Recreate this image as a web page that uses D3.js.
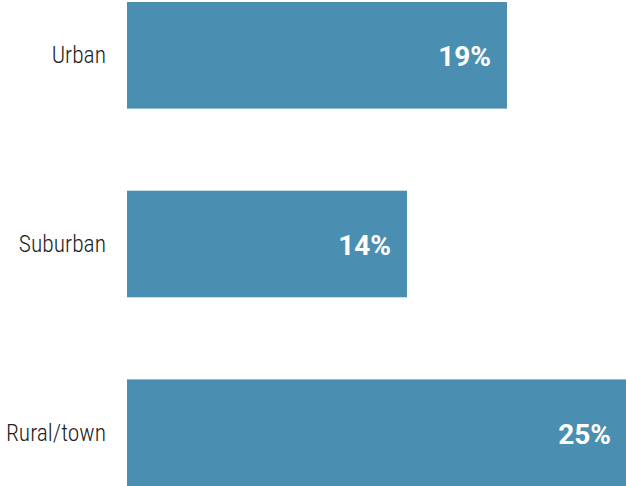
<!DOCTYPE html>
<html>
<head>
<meta charset="utf-8">
<script src="https://cdn.jsdelivr.net/npm/d3@7"></script>
<style>
  html, body { margin: 0; padding: 0; background: #fff; }
  svg { display: block; }
</style>
</head>
<body>
<svg id="chart" width="626" height="486"></svg>
<script>
// Share by community type
const categories = ["Urban", "Suburban", "Rural/town"];
const values = [19, 14, 25];
const valueLabels = ["19%", "14%", "25%"];

const W = 626, H = 486;
const svg = d3.select("#chart");

const x = d3.scaleLinear().domain([0, 25]).range([127, 627]);
const y = d3.scaleBand().domain(categories).range([2, 486])
  .paddingInner(0.435).paddingOuter(0);

const barColor = "#4a8fb2";
const labelFont = "'Roboto Condensed', 'Roboto', sans-serif";
const valueFont = "'Roboto', 'Roboto Condensed', sans-serif";

const rows = svg.selectAll("g.row")
  .data(categories.map((c, i) => ({ c, v: values[i], label: valueLabels[i] })))
  .join("g").attr("class", "row");

rows.append("rect")
  .attr("x", x(0))
  .attr("y", d => y(d.c))
  .attr("width", d => x(d.v) - x(0))
  .attr("height", y.bandwidth())
  .attr("fill", barColor);

// category labels, right-aligned left of the bars
rows.append("text")
  .attr("x", 106)
  .attr("y", d => y(d.c) + y.bandwidth() / 2 + 8)
  .attr("text-anchor", "end")
  .attr("font-family", labelFont)
  .attr("font-weight", 300)
  .attr("font-size", 23.5)
  .attr("fill", "#222")
  .text(d => d.c);

// value labels inside the bar ends
rows.append("text")
  .attr("x", d => x(d.v) - 16)
  .attr("y", d => y(d.c) + y.bandwidth() / 2 + 11)
  .attr("text-anchor", "end")
  .attr("font-family", valueFont)
  .attr("font-weight", "bold")
  .attr("font-size", 28)
  .attr("fill", "#fff")
  .text(d => d.label);
</script>
</body>
</html>
